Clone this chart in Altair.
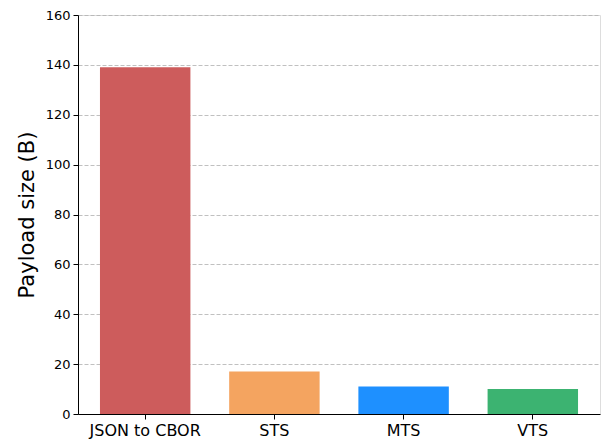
import altair as alt
import pandas as pd

categories = ["JSON to CBOR", "STS", "MTS", "VTS"]
values = [139, 17, 11, 10]
colors = ["#CD5C5C", "#F4A460", "#1E90FF", "#3CB371"]
y_ticks = [0, 20, 40, 60, 80, 100, 120, 140, 160]

df = pd.DataFrame({"cat": categories, "val": values})

FONT = "DejaVu Sans"

chart = (
    alt.Chart(df)
    .mark_bar()
    .encode(
        x=alt.X(
            "cat:N",
            sort=categories,
            title=None,
            scale=alt.Scale(paddingInner=0.3, paddingOuter=0.17),
            axis=alt.Axis(
                labelAngle=0,
                labelFont=FONT,
                labelFontSize=16,
                labelColor="black",
                labelPadding=3,
                tickColor="black",
                tickSize=5,
                domainColor="black",
                grid=False,
            ),
        ),
        y=alt.Y(
            "val:Q",
            title="Payload size (B)",
            scale=alt.Scale(domain=[0, 160], nice=False),
            axis=alt.Axis(
                values=y_ticks,
                labelFont=FONT,
                labelFontSize=13,
                labelColor="black",
                labelPadding=3,
                tickColor="black",
                tickSize=5,
                domainColor="black",
                grid=True,
                gridColor="#b0b0b0",
                gridDash=[4, 2],
                gridWidth=0.8,
                titleFont=FONT,
                titleFontSize=21,
                titleFontWeight="normal",
                titleColor="black",
                titlePadding=8,
            ),
        ),
        color=alt.Color(
            "cat:N",
            scale=alt.Scale(domain=categories, range=colors),
            legend=None,
        ),
    )
    .properties(
        width=522,
        height=399,
        autosize=alt.AutoSizeParams(type="none"),
        padding={"left": 70, "top": 7, "right": 2, "bottom": 28},
    )
    .configure_view(stroke="black", strokeWidth=1)
    .configure(background="white")
)

chart.save("out.html", embed_options={"renderer": "svg", "actions": False})
